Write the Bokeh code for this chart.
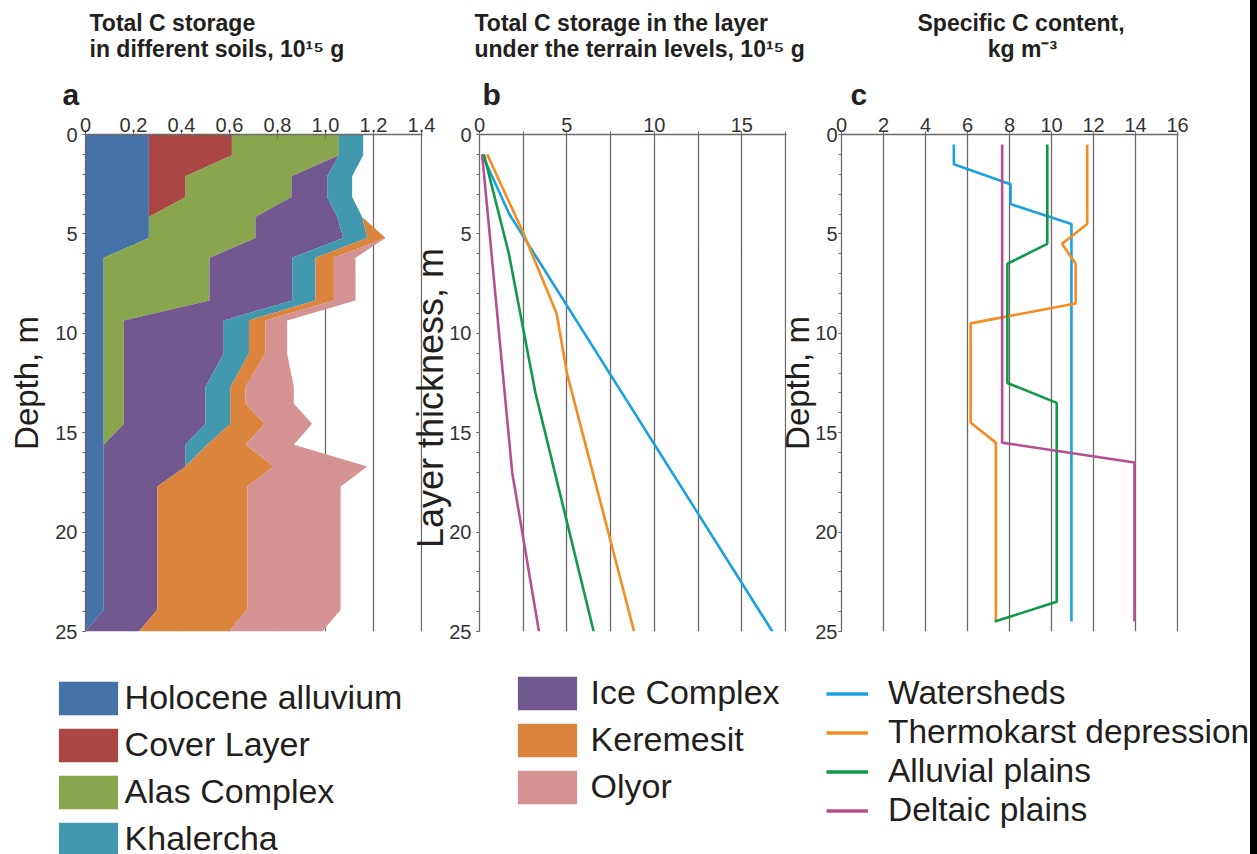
from bokeh.plotting import figure
from bokeh.models import (Range1d, FixedTicker, Title, Legend, LegendItem,
                          ColumnDataSource, CustomJSTickFormatter, Spacer)
from bokeh.layouts import row, column
from bokeh.embed import file_html
from bokeh.resources import INLINE

# ---------------- data ----------------
# Panel a: thickness (10^15 g) of each soil layer, stacked, at depth points (m)
depth_a = [0, 1.05, 2.1, 3.15, 4.15, 5.2, 6.2, 8.35, 9.35, 11.0, 12.7, 13.55, 14.55, 15.6, 16.7, 17.7, 23.9, 25]
holocene_alluvium = [0.264, 0.264, 0.264, 0.264, 0.264, 0.264, 0.076, 0.076, 0.076, 0.076, 0.076, 0.076, 0.076, 0.076, 0.076, 0.076, 0.076, 0.0]
cover_layer = [0.346, 0.346, 0.153, 0.153, 0.0, 0.0, 0.0, 0.0, 0.0, 0.0, 0.0, 0.0, 0.0, 0.0, 0.0, 0.0, 0.0, 0.0]
alas_complex = [0.446, 0.446, 0.441, 0.441, 0.444, 0.444, 0.441, 0.441, 0.084, 0.084, 0.084, 0.084, 0.084, 0.0, 0.0, 0.0, 0.0, 0.0]
ice_complex = [0.0, 0.0, 0.149, 0.149, 0.341, 0.366, 0.344, 0.344, 0.416, 0.416, 0.340, 0.340, 0.340, 0.341, 0.341, 0.223, 0.223, 0.222]
khalercha = [0.101, 0.101, 0.104, 0.104, 0.104, 0.100, 0.097, 0.097, 0.105, 0.105, 0.104, 0.104, 0.104, 0.090, 0.0, 0.0, 0.0, 0.0]
keremesit = [0.0, 0.0, 0.0, 0.0, 0.0, 0.076, 0.077, 0.077, 0.069, 0.069, 0.063, 0.063, 0.142, 0.160, 0.368, 0.375, 0.375, 0.375]
olyor = [0.0, 0.0, 0.0, 0.0, 0.0, 0.0, 0.090, 0.090, 0.090, 0.090, 0.201, 0.201, 0.198, 0.201, 0.389, 0.389, 0.389, 0.389]

soil_names = ["Holocene alluvium", "Cover Layer", "Alas Complex", "Ice Complex",
              "Khalercha", "Keremesit", "Olyor"]
soil_colors = ["#4572A7", "#AA4643", "#89A54E", "#71588F", "#4198AF", "#DB843D", "#D49292"]

# Panel b: cumulative C storage (10^15 g) vs layer thickness (m)
thick_watersheds = [1, 4, 25]
stor_watersheds = [0.15, 1.7, 16.75]
thick_thermokarst = [1, 5, 9, 12, 25]
stor_thermokarst = [0.44, 2.53, 4.41, 5.0, 8.84]
thick_alluvial = [1, 6, 13, 25]
stor_alluvial = [0.25, 1.68, 3.2, 6.53]
thick_deltaic = [1, 17, 25]
stor_deltaic = [0.15, 1.87, 3.4]

# Panel c: specific C content (kg m-3) at depth (m)
depth_c = [0.5, 1.5, 2.5, 3.5, 4.5, 5.5, 6.5, 7.5, 8.5, 9.5, 10.5, 11.5, 12.5,
           13.5, 14.5, 15.5, 16.5, 17.5, 18.5, 19.5, 20.5, 21.5, 22.5, 23.5, 24.5]
spec_watersheds = [5.35, 5.35, 8.05, 8.05, 10.95, 10.95, 10.95, 10.95, 10.95, 10.95, 10.95, 10.95, 10.95,
                   10.95, 10.95, 10.95, 10.95, 10.95, 10.95, 10.95, 10.95, 10.95, 10.95, 10.95, 10.95]
spec_thermokarst = [11.7, 11.7, 11.7, 11.7, 11.7, 10.5, 11.15, 11.15, 11.15, 6.15, 6.15, 6.15, 6.15,
                    6.15, 6.15, 7.35, 7.35, 7.35, 7.35, 7.35, 7.35, 7.35, 7.35, 7.35, 7.35]
spec_alluvial = [9.8, 9.8, 9.8, 9.8, 9.8, 9.8, 7.9, 7.9, 7.9, 7.9, 7.9, 7.9, 7.9,
                 10.25, 10.25, 10.25, 10.25, 10.25, 10.25, 10.25, 10.25, 10.25, 10.25, 10.25, 7.3]
spec_deltaic = [7.65, 7.65, 7.65, 7.65, 7.65, 7.65, 7.65, 7.65, 7.65, 7.65, 7.65, 7.65, 7.65,
                7.65, 7.65, 7.65, 13.95, 13.95, 13.95, 13.95, 13.95, 13.95, 13.95, 13.95, 13.95]

terrain_names = ["Watersheds", "Thermokarst depression", "Alluvial plains", "Deltaic plains"]
terrain_colors = ["#1BA1E2", "#F68B1F", "#0E9A48", "#B5508F"]

# ticks
x_ticks_a = [0, 0.2, 0.4, 0.6, 0.8, 1.0, 1.2, 1.4]
x_ticks_b = [0, 5, 10, 15]
x_minor_b = [2.5, 7.5, 12.5, 17.5]
x_ticks_c = [0, 2, 4, 6, 8, 10, 12, 14, 16]
depth_ticks = [0, 5, 10, 15, 20, 25]
depth_minor = list(range(0, 26))

# ---------------- styling ----------------
FONT = "Liberation Sans"
TEXT = "#231f20"
LBL = "#333333"
GRID = "#6a6a6a"
H_MAIN = 660
H_LEG = 194
FRAME_TOP = 134
FRAME_BOTTOM = 631
NB = "\u00a0"


def make_panel(width, x_end, left, right, xticks, xminor, ylabel, ylabel_size,
               ylabel_standoff, label_standoff):
    p = figure(width=width, height=H_MAIN, x_range=Range1d(0, x_end), y_range=Range1d(25, 0),
               x_axis_location="above", toolbar_location=None, output_backend="svg",
               title=None, min_border_left=left, min_border_right=right,
               min_border_top=FRAME_TOP, min_border_bottom=H_MAIN - FRAME_BOTTOM)
    p.outline_line_color = None
    p.ygrid.visible = False
    xt = FixedTicker(ticks=xticks, minor_ticks=xminor)
    xa = p.xaxis[0]
    xa.ticker = xt
    xa.axis_line_color = GRID
    xa.axis_line_width = 1.3
    xa.major_tick_line_color = GRID
    xa.minor_tick_line_color = GRID
    xa.major_tick_in = 4
    xa.major_tick_out = 3
    xa.minor_tick_in = 4
    xa.minor_tick_out = 3
    xa.major_label_standoff = 0
    xa.major_label_text_font = FONT
    xa.major_label_text_font_size = "20px"
    xa.major_label_text_color = LBL
    g = p.xgrid[0]
    g.ticker = xt
    g.grid_line_color = GRID
    g.grid_line_width = 1.3
    if xminor:
        g.minor_grid_line_color = GRID
        g.minor_grid_line_width = 1.3
    ya = p.yaxis[0]
    ya.ticker = FixedTicker(ticks=depth_ticks, minor_ticks=depth_minor)
    ya.axis_line_color = GRID
    ya.axis_line_width = 1.3
    ya.major_tick_line_color = GRID
    ya.minor_tick_line_color = GRID
    ya.major_tick_in = 0
    ya.major_tick_out = 3
    ya.minor_tick_in = 0
    ya.minor_tick_out = 3
    ya.major_label_standoff = label_standoff
    ya.major_label_text_font = FONT
    ya.major_label_text_font_size = "20px"
    ya.major_label_text_color = LBL
    ya.axis_label = ylabel
    ya.axis_label_text_font = FONT
    ya.axis_label_text_font_size = ylabel_size
    ya.axis_label_text_font_style = "normal"
    ya.axis_label_text_color = TEXT
    ya.axis_label_standoff = ylabel_standoff
    return p


def add_titles(p, letter, letter_offset, text, text_offset):
    p.add_layout(Title(text=letter, align="left", offset=letter_offset, standoff=7,
                       text_font=FONT, text_font_size="30px", text_font_style="bold",
                       text_color=TEXT), "above")
    p.add_layout(Title(text=text, align="left", vertical_align="top", offset=text_offset,
                       standoff=18, text_font=FONT, text_font_size="23px",
                       text_font_style="bold", text_color=TEXT, text_line_height=1.0), "above")


def legend_fig(width):
    f = figure(width=width, height=H_LEG, x_range=Range1d(0, 1), y_range=Range1d(0, 1),
               x_axis_type=None, y_axis_type=None, toolbar_location=None,
               output_backend="svg", title=None, min_border=0,
               min_border_left=0, min_border_right=0, min_border_top=0, min_border_bottom=0)
    f.outline_line_color = None
    f.grid.visible = False
    return f


leg_common = dict(orientation="vertical", padding=0, margin=0, border_line_alpha=0,
                  background_fill_alpha=0, inactive_fill_alpha=0,
                  label_text_font=FONT, label_text_color=TEXT)

src_a = ColumnDataSource(dict(depth=depth_a, **{
    "Holocene alluvium": holocene_alluvium, "Cover Layer": cover_layer,
    "Alas Complex": alas_complex, "Ice Complex": ice_complex, "Khalercha": khalercha,
    "Keremesit": keremesit, "Olyor": olyor}))

# ---------------- panel a ----------------
pa = make_panel(440, 1.4 * 337 / 336, 85, 18, x_ticks_a, [], "Depth, m", "33px", 7, 5)
pa.xaxis[0].formatter = CustomJSTickFormatter(code="return tick == 0 ? '0' : tick.toFixed(1);")
pa.harea_stack(stackers=soil_names, y="depth", source=src_a, color=soil_colors)
add_titles(pa, "a", -23, "Total C storage\nin different soils, 10\u00b9\u2075 g", 4)

# ---------------- panel b ----------------
pb = make_panel(405, 17.5 * 307 / 306, 74, 24, x_ticks_b, x_minor_b,
                "Layer thickness, m" + NB * 3, "36px", -5, 5)
pb.margin = (0, 0, 0, -35)
pb.background_fill_color = None
pb.border_fill_color = None
for xs, ys, c in [(stor_watersheds, thick_watersheds, terrain_colors[0]),
                  (stor_thermokarst, thick_thermokarst, terrain_colors[1]),
                  (stor_alluvial, thick_alluvial, terrain_colors[2]),
                  (stor_deltaic, thick_deltaic, terrain_colors[3])]:
    pb.line(x=xs, y=ys, line_color=c, line_width=2.6)
add_titles(pb, "b", 3, "Total C storage in the layer\nunder the terrain levels, 10\u00b9\u2075 g", -5)

# ---------------- panel c ----------------
pc = make_panel(477, 16 * 337 / 336, 68, 72, x_ticks_c, [], "Depth, m", "33px", -4, 1)
pc.margin = (0, 0, 0, -37)
pc.background_fill_color = None
pc.border_fill_color = None
for ys, c in zip([spec_watersheds, spec_thermokarst, spec_alluvial, spec_deltaic], terrain_colors):
    pc.line(x=ys, y=depth_c, line_color=c, line_width=2.6)
add_titles(pc, "c", 9, "Specific C content,\n" + NB * 11 + "kg m\u207b\u00b3", 76)

# ---------------- legends (keys of the same series) ----------------
la = legend_fig(810)
keys_a = la.harea_stack(stackers=soil_names, y="depth", source=src_a, color=soil_colors)
for r in keys_a:
    r.visible = False
leg1 = Legend(items=[LegendItem(label=soil_names[i], renderers=[keys_a[i]]) for i in [0, 1, 2, 4]],
              location=(50.6, -5.8), glyph_width=74, glyph_height=42, label_height=42,
              spacing=5, label_standoff=0, label_text_font_size="34px", **leg_common)
leg2 = Legend(items=[LegendItem(label=soil_names[i], renderers=[keys_a[i]]) for i in [3, 5, 6]],
              location=(509.6, 46.2), glyph_width=74, glyph_height=42, label_height=42,
              spacing=5, label_standoff=7, label_text_font_size="34px", **leg_common)
la.add_layout(leg1)
la.add_layout(leg2)

lc = legend_fig(440)
keys_c = []
for ys, c in zip([spec_watersheds, spec_thermokarst, spec_alluvial, spec_deltaic], terrain_colors):
    r = lc.line(x=ys, y=depth_c, line_color=c, line_width=3.5)
    r.visible = False
    keys_c.append(r)
leg3 = Legend(items=[LegendItem(label=n, renderers=[r]) for n, r in zip(terrain_names, keys_c)],
              location=(16, 24.5), glyph_width=42, glyph_height=39, label_height=39,
              spacing=0, label_standoff=20, label_text_font_size="33.5px", **leg_common)
lc.add_layout(leg3)

edge = Spacer(width=7, height=H_MAIN + H_LEG, styles={"background-color": "black"})

layout = row(column(row(pa, pb, pc), row(la, lc)), edge)
open("out.html", "w").write(file_html(layout, INLINE))
